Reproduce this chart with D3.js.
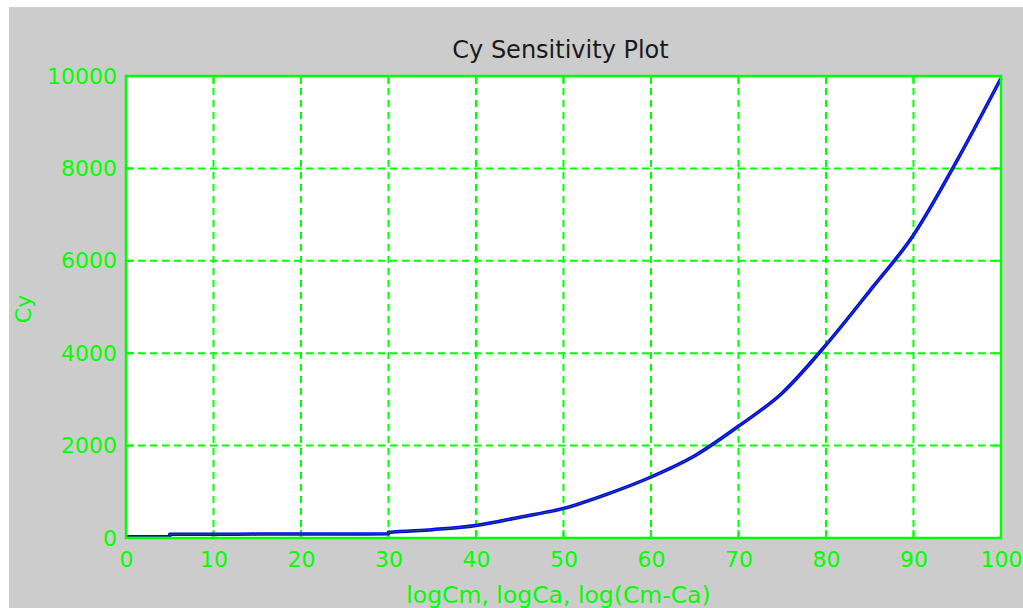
<!DOCTYPE html>
<html>
<head>
<meta charset="utf-8">
<script src="https://cdn.jsdelivr.net/npm/d3@7"></script>
<style>
  html, body { margin: 0; padding: 0; background: #ffffff; }
  svg { display: block; }
</style>
</head>
<body>
<svg id="chart" width="1023" height="608"></svg>
<script>
// ---- data ----
const titleText = "Cy Sensitivity Plot";
const xLabel = "logCm, logCa, log(Cm-Ca)";
const yLabel = "Cy";
const xTicks = [0, 10, 20, 30, 40, 50, 60, 70, 80, 90, 100];
const yTicks = [0, 2000, 4000, 6000, 8000, 10000];
const xValues = [0, 5, 5, 10, 15, 20, 25, 30, 30, 35, 40, 45, 50, 55, 60, 65, 70, 75, 80, 85, 90, 95, 100];
const cmValues = [25, 25, 80, 82, 84, 86, 88, 90, 120, 180, 270, 450, 640, 950, 1320, 1780, 2420, 3140, 4180, 5350, 6560, 8180, 9950];
const caValues = [25, 25, 80, 82, 84, 86, 88, 90, 120, 180, 270, 450, 640, 950, 1320, 1780, 2420, 3140, 4180, 5350, 6560, 8180, 9950];

// ---- layout ----
const W = 1023, H = 608;
const L = 126, R = 1001, T = 76, B = 538;
const green = "#00ff00";

const svg = d3.select("#chart");
svg.append("rect").attr("x", 9).attr("y", 7).attr("width", W - 9).attr("height", H - 7).attr("fill", "#cccccc");

const x = d3.scaleLinear().domain([0, 100]).range([L, R]);
const y = d3.scaleLinear().domain([0, 10000]).range([B, T]);

// plot area
svg.append("rect").attr("x", L).attr("y", T).attr("width", R - L).attr("height", B - T).attr("fill", "#ffffff");

// grid
const grid = svg.append("g");
grid.selectAll("line.vx").data(xTicks.slice(1, -1)).join("line")
  .attr("x1", d => x(d)).attr("x2", d => x(d)).attr("y1", T).attr("y2", B)
  .attr("stroke", green).attr("stroke-width", 2).attr("stroke-dasharray", "7,5");
grid.selectAll("line.hy").data(yTicks.slice(1, -1)).join("line")
  .attr("x1", L).attr("x2", R).attr("y1", d => y(d)).attr("y2", d => y(d))
  .attr("stroke", green).attr("stroke-width", 2).attr("stroke-dasharray", "7,5");

// inner tick marks on all four sides
const tk = 8;
grid.selectAll("line.tb").data(xTicks).join("line")
  .attr("x1", d => x(d)).attr("x2", d => x(d)).attr("y1", B).attr("y2", B - tk)
  .attr("stroke", green).attr("stroke-width", 2);
grid.selectAll("line.tt").data(xTicks).join("line")
  .attr("x1", d => x(d)).attr("x2", d => x(d)).attr("y1", T).attr("y2", T + tk)
  .attr("stroke", green).attr("stroke-width", 2);
grid.selectAll("line.tl").data(yTicks).join("line")
  .attr("x1", L).attr("x2", L + tk).attr("y1", d => y(d)).attr("y2", d => y(d))
  .attr("stroke", green).attr("stroke-width", 2);
grid.selectAll("line.tr").data(yTicks).join("line")
  .attr("x1", R).attr("x2", R - tk).attr("y1", d => y(d)).attr("y2", d => y(d))
  .attr("stroke", green).attr("stroke-width", 2);

// series
svg.append("clipPath").attr("id", "clip")
  .append("rect").attr("x", L - 2).attr("y", T - 2).attr("width", R - L + 4).attr("height", B - T + 4);
const lineGen = d3.line().x(d => x(d[0])).y(d => y(d[1])).curve(d3.curveMonotoneX);
const cmData = xValues.map((v, i) => [v, cmValues[i]]);
const caData = xValues.map((v, i) => [v, caValues[i]]);
const sg = svg.append("g").attr("clip-path", "url(#clip)");
sg.append("path").datum(cmData).attr("d", lineGen).attr("fill", "none")
  .attr("stroke", "#0000ff").attr("stroke-width", 3.5).attr("stroke-linejoin", "round");
sg.append("path").datum(caData).attr("d", lineGen).attr("fill", "none")
  .attr("stroke", "#2a6e2a").attr("stroke-width", 0.8).attr("stroke-linejoin", "round");

// border
svg.append("rect").attr("x", L).attr("y", T).attr("width", R - L).attr("height", B - T)
  .attr("fill", "none").attr("stroke", green).attr("stroke-width", 2.5);

// axes (labels only)
const fontFam = "'DejaVu Sans', sans-serif";
const yAxis = svg.append("g").attr("transform", `translate(${L},0)`)
  .call(d3.axisLeft(y).tickValues(yTicks).tickSize(0).tickPadding(9).tickFormat(d3.format("d")));
const xAxis = svg.append("g").attr("transform", `translate(0,${B})`)
  .call(d3.axisBottom(x).tickValues(xTicks).tickSize(0).tickPadding(13).tickFormat(d3.format("d")));
[yAxis, xAxis].forEach(g => {
  g.select(".domain").remove();
  g.selectAll("text").attr("fill", green).style("font-family", fontFam).style("font-size", "22px");
});

// title and axis labels
svg.append("text").attr("x", (L + R) / 2 - 3).attr("y", 58).attr("text-anchor", "middle")
  .attr("fill", "#1a1a1a").style("font-family", fontFam).style("font-size", "24px").text(titleText);
svg.append("text").attr("x", (L + R) / 2 - 5).attr("y", 603).attr("text-anchor", "middle")
  .attr("fill", green).style("font-family", fontFam).style("font-size", "23.5px").text(xLabel);
svg.append("text").attr("transform", "translate(31,309) rotate(-90)").attr("text-anchor", "middle")
  .attr("fill", green).style("font-family", fontFam).style("font-size", "22px").text(yLabel);
</script>
</body>
</html>
